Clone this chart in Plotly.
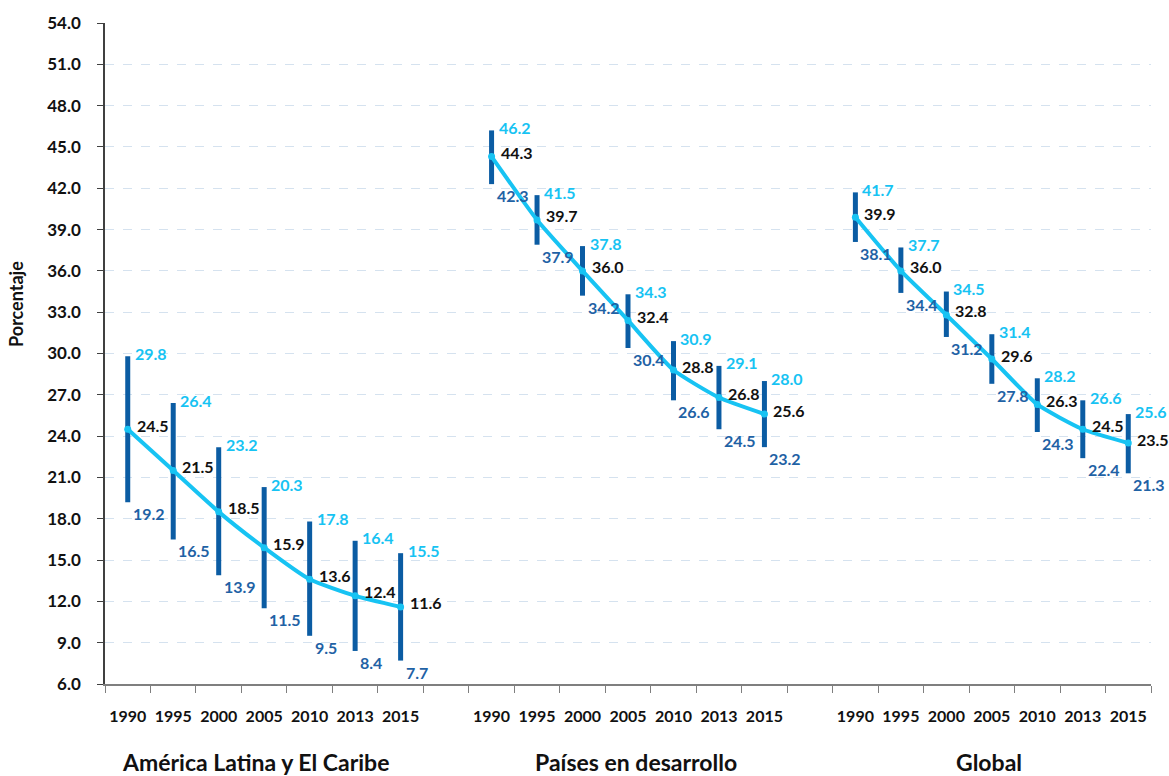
import plotly.graph_objects as go

years = ["1990", "1995", "2000", "2005", "2010", "2013", "2015"]
groups = ["América Latina y El Caribe", "Países en desarrollo", "Global"]

alc_center = [24.5, 21.5, 18.5, 15.9, 13.6, 12.4, 11.6]
alc_high = [29.8, 26.4, 23.2, 20.3, 17.8, 16.4, 15.5]
alc_low = [19.2, 16.5, 13.9, 11.5, 9.5, 8.4, 7.7]

ped_center = [44.3, 39.7, 36.0, 32.4, 28.8, 26.8, 25.6]
ped_high = [46.2, 41.5, 37.8, 34.3, 30.9, 29.1, 28.0]
ped_low = [42.3, 37.9, 34.2, 30.4, 26.6, 24.5, 23.2]

glo_center = [39.9, 36.0, 32.8, 29.6, 26.3, 24.5, 23.5]
glo_high = [41.7, 37.7, 34.5, 31.4, 28.2, 26.6, 25.6]
glo_low = [38.1, 34.4, 31.2, 27.8, 24.3, 22.4, 21.3]

y_ticks = [6.0 + 3.0 * i for i in range(17)]

series = [(alc_center, alc_high, alc_low), (ped_center, ped_high, ped_low), (glo_center, glo_high, glo_low)]

BAR = "#0B5CA3"
CYAN = "#17C3F3"
LOWC = "#1F62A5"
FONT = "Lato"
LBL = 16

fig = go.Figure()
n_per = len(years)
stride = n_per + 1
n_cat = stride * len(groups) - 1

tickvals, ticktext = [], []
annotations = []
for g, (c, h, l) in enumerate(series):
    xs = [g * stride + i for i in range(n_per)]
    tickvals += xs
    ticktext += years
    # error bars (low-high ranges)
    fig.add_trace(go.Scatter(
        x=xs, y=c, mode="markers", marker=dict(size=0.1, color="rgba(0,0,0,0)"),
        error_y=dict(type="data", symmetric=False,
                     array=[hh - cc for hh, cc in zip(h, c)],
                     arrayminus=[cc - ll for cc, ll in zip(c, l)],
                     thickness=5, width=0, color=BAR),
        showlegend=False, hoverinfo="skip"))
    # central line
    fig.add_trace(go.Scatter(
        x=xs, y=c, mode="lines+markers",
        line=dict(color=CYAN, width=4, shape="spline", smoothing=0.5),
        marker=dict(size=7, color=CYAN),
        showlegend=False))
    for x, cc, hh, ll in zip(xs, c, h, l):
        annotations.append(dict(x=x, y=hh, xref="x", yref="y", text=f"{hh:.1f}", showarrow=False,
                                xanchor="left", yanchor="middle", xshift=5, yshift=3,
                                font=dict(family=FONT, size=LBL, color=CYAN, weight=700)))
        annotations.append(dict(x=x, y=cc, xref="x", yref="y", text=f"{cc:.1f}", showarrow=False,
                                xanchor="left", yanchor="middle", xshift=7, yshift=4,
                                font=dict(family=FONT, size=LBL, color="#111111", weight=700)))
        annotations.append(dict(x=x, y=ll, xref="x", yref="y", text=f"{ll:.1f}", showarrow=False,
                                xanchor="left", yanchor="top", xshift=3, yshift=0,
                                font=dict(family=FONT, size=LBL, color=LOWC, weight=700)))

group_pos = [2.82, 11.17, 18.93]
for name, gx in zip(groups, group_pos):
    annotations.append(dict(x=gx, y=0, xref="x", yref="paper", yshift=-78, text=name,
                            showarrow=False, xanchor="center", yanchor="middle",
                            font=dict(family=FONT, size=23, color="#111111", weight=700)))

annotations.append(dict(x=0, y=0.575, xref="paper", yref="paper", xshift=-89, text="Porcentaje",
                        textangle=-90, showarrow=False, xanchor="center", yanchor="middle",
                        font=dict(family=FONT, size=18, color="#111111", weight=700)))

fig.update_layout(
    width=1169, height=776,
    margin=dict(l=105, r=18, t=15, b=92),
    plot_bgcolor="white", paper_bgcolor="white",
    annotations=annotations,
    xaxis=dict(range=[-0.5, n_cat - 0.5], tickvals=tickvals, ticktext=ticktext,
               ticks="", showgrid=False, zeroline=False,
               showline=True, linecolor="#7f7f7f", linewidth=1.5,
               ticklabelstandoff=17,
               tickfont=dict(family=FONT, size=16, color="#111111", weight=700),
               minor=dict(tickvals=[i - 0.5 for i in range(n_cat + 1)], ticks="outside",
                          ticklen=7, tickcolor="#7f7f7f", tickwidth=1, showgrid=False)),
    yaxis=dict(range=[6, 54], tickvals=y_ticks, ticktext=[f"{v:.1f}" for v in y_ticks],
               showgrid=True, gridcolor="#D5E2EF", griddash="dash", gridwidth=1,
               zeroline=False, showline=True, linecolor="#404040", linewidth=1.5,
               ticks="outside", ticklen=6, tickcolor="#404040",
               ticklabelstandoff=13,
               tickfont=dict(family=FONT, size=17, color="#111111", weight=700)),
)

fig.write_html("out.html")
